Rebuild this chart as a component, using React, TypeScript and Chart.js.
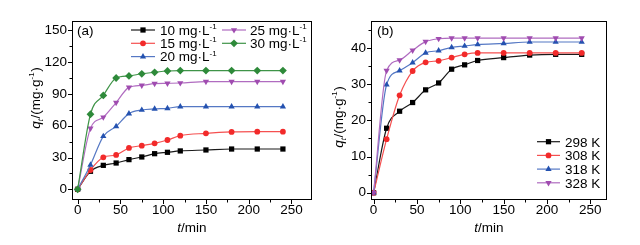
import React, { useEffect, useRef } from 'react';
import { Chart, registerables } from 'chart.js';

Chart.register(...registerables);

// ---------- data ----------
const times = [0, 15, 30, 45, 60, 75, 90, 105, 120, 150, 180, 210, 240];
const xTicks = [0, 50, 100, 150, 200, 250];
const aTicks = [0, 30, 60, 90, 120, 150];
const bTicks = [0, 10, 20, 30, 40];

const aNames = ['10', '15', '20', '25', '30']; // mg·L-1
const a10 = [0, 17, 22.6, 24.8, 28, 30.5, 33.6, 34.9, 36.2, 37.1, 38, 38, 38];
const a15 = [0, 18.2, 30.2, 32.4, 39, 41.2, 43.4, 46.5, 50.6, 52.8, 54.1, 54.4, 54.4];
const a20 = [0, 23, 50, 59.4, 71.4, 74.8, 75.8, 76.4, 78, 78, 78, 78, 78];
const a25 = [0, 57.5, 68, 81.8, 96.2, 98.1, 99.7, 100, 100.3, 101.6, 101.6, 101.6, 101.6];
const a30 = [0, 70.8, 88.6, 105, 107, 109, 110.4, 111.6, 112, 112, 112, 112, 112];

const bNames = ['298 K', '308 K', '318 K', '328 K'];
const b298 = [0, 17.8, 22.5, 24.9, 28.4, 30.3, 34.1, 35.3, 36.5, 37.3, 38, 38.2, 38.2];
const b308 = [0, 14.8, 26.9, 33.6, 36, 36.4, 37.3, 38.2, 38.6, 38.6, 38.6, 38.6, 38.6];
const b318 = [0, 29.8, 33.7, 35.9, 38.6, 39.2, 40.1, 40.5, 40.9, 41.2, 41.6, 41.6, 41.6];
const b328 = [0, 33.7, 36.6, 39.3, 41.7, 42.5, 42.7, 42.7, 42.7, 42.7, 42.7, 42.7, 42.7];

// ---------- styles ----------
const FONT = "Arial, 'Liberation Sans', sans-serif";
const FS = 13.5;
const W = 320;
const H = 245;

type Sty = { color: string; line: string; shape: string };
const STY: Sty[] = [
  { color: '#000000', line: '#1a1a1a', shape: 'rect' },
  { color: '#f22a2a', line: '#f55050', shape: 'circle' },
  { color: '#2452b0', line: '#5578c4', shape: 'triangle' },
  { color: '#a04cb0', line: '#b06cc0', shape: 'triangleDown' },
  { color: '#2e8a3a', line: '#3f9448', shape: 'rectRot' },
];

type Seg = { t: string; it?: boolean; sub?: boolean; sup?: boolean };

function segFont(s: Seg, size: number) {
  const sz = s.sub || s.sup ? Math.round(size * 0.62) : size;
  return `${s.it ? 'italic ' : ''}${sz}px ${FONT}`;
}

function drawRich(ctx: CanvasRenderingContext2D, segs: Seg[], x: number, y: number, size: number, align: 'left' | 'center') {
  let total = 0;
  const ws = segs.map((s) => {
    ctx.font = segFont(s, size);
    const w = ctx.measureText(s.t).width + (s.sup || s.sub ? 0.5 : 0);
    total += w;
    return w;
  });
  let cx = align === 'center' ? x - total / 2 : x;
  const base = y + size * 0.36;
  ctx.textBaseline = 'alphabetic';
  ctx.textAlign = 'left';
  ctx.fillStyle = '#000';
  segs.forEach((s, i) => {
    ctx.font = segFont(s, size);
    let yy = base;
    if (s.sub) yy = base + size * 0.22;
    if (s.sup) yy = base - size * 0.42;
    ctx.fillText(s.t, cx, yy);
    cx += ws[i];
  });
}

function drawMarker(ctx: CanvasRenderingContext2D, shape: string, x: number, y: number, r: number, color: string) {
  ctx.fillStyle = color;
  ctx.beginPath();
  if (shape === 'rect') {
    const s = r * Math.SQRT1_2;
    ctx.rect(x - s, y - s, 2 * s, 2 * s);
  } else if (shape === 'circle') {
    ctx.arc(x, y, r, 0, Math.PI * 2);
  } else if (shape === 'triangle') {
    ctx.moveTo(x, y - r);
    ctx.lineTo(x + r * 0.866, y + r * 0.5);
    ctx.lineTo(x - r * 0.866, y + r * 0.5);
  } else if (shape === 'triangleDown') {
    ctx.moveTo(x, y + r);
    ctx.lineTo(x + r * 0.866, y - r * 0.5);
    ctx.lineTo(x - r * 0.866, y - r * 0.5);
  } else {
    ctx.moveTo(x, y - r);
    ctx.lineTo(x + r, y);
    ctx.lineTo(x, y + r);
    ctx.lineTo(x - r, y);
  }
  ctx.closePath();
  ctx.fill();
}

const unitSegs = (n: string): Seg[] => [{ t: `${n} mg·L` }, { t: '-1', sup: true }];

type LegendItem = { segs: Seg[]; sty: Sty; x0: number; x1: number; tx: number; y: number };

type Panel = {
  area: { left: number; top: number; right: number; bottom: number };
  xMin: number; xMax: number; yMin: number; yMax: number;
  yTicks: number[]; yMinor: number; xMinor: number;
  series: { name: string; data: number[]; sty: Sty; r: number }[];
  legend: LegendItem[];
  tag: string; tagX: number;
  yTitle: { x: number; y: number };
  xTitle: { x: number; y: number };
};

const R = [3.7, 2.9, 3.6, 3.6, 3.9];

const panelA: Panel = {
  area: { left: 72, top: 21, right: 312, bottom: 200 },
  xMin: -6.6, xMax: 274, yMin: -10.1, yMax: 158.8,
  yTicks: aTicks, yMinor: 15, xMinor: 25,
  series: [a10, a15, a20, a25, a30].map((d, i) => ({ name: aNames[i], data: d, sty: STY[i], r: R[i] })),
  legend: [
    { segs: unitSegs(aNames[0]), sty: STY[0], x0: 131, x1: 155, tx: 160, y: 30 },
    { segs: unitSegs(aNames[1]), sty: STY[1], x0: 131, x1: 155, tx: 160, y: 43.3 },
    { segs: unitSegs(aNames[2]), sty: STY[2], x0: 131, x1: 155, tx: 160, y: 56.6 },
    { segs: unitSegs(aNames[3]), sty: STY[3], x0: 222, x1: 246, tx: 250, y: 30 },
    { segs: unitSegs(aNames[4]), sty: STY[4], x0: 222, x1: 246, tx: 250, y: 43.3 },
  ],
  tag: '(a)', tagX: 77,
  yTitle: { x: 35, y: 98 },
  xTitle: { x: 192, y: 227 },
};

const panelB: Panel = {
  area: { left: 51, top: 21, right: 287, bottom: 200 },
  xMin: -3, xMax: 269.2, yMin: -2, yMax: 47.4,
  yTicks: bTicks, yMinor: 5, xMinor: 25,
  series: [b298, b308, b318, b328].map((d, i) => ({ name: bNames[i], data: d, sty: STY[i], r: R[i] })),
  legend: bNames.map((n, i) => ({ segs: [{ t: n }], sty: STY[i], x0: 217, x1: 240, tx: 245, y: 141.7 + i * 13.7 })),
  tag: '(b)', tagX: 57,
  yTitle: { x: 18, y: 117 },
  xTitle: { x: 169, y: 227 },
};

function makeChart(canvas: HTMLCanvasElement, p: Panel) {
  const n = p.series.length;
  const deco = {
    id: 'deco',
    afterDraw(chart: any) {
      const ctx: CanvasRenderingContext2D = chart.ctx;
      const { left, top, right, bottom } = chart.chartArea;
      const xs = chart.scales.x;
      const ys = chart.scales.y;
      ctx.save();
      ctx.strokeStyle = '#000';
      ctx.lineWidth = 1;
      ctx.strokeRect(Math.round(left) + 0.5, Math.round(top) + 0.5, Math.round(right - left) - 1, Math.round(bottom - top) - 1);
      // ticks
      ctx.beginPath();
      for (let v = Math.ceil(p.xMin / p.xMinor) * p.xMinor; v <= p.xMax; v += p.xMinor) {
        const px = Math.round(xs.getPixelForValue(v)) + 0.5;
        const major = xTicks.includes(v);
        ctx.moveTo(px, Math.round(bottom));
        ctx.lineTo(px, Math.round(bottom) + (major ? 4 : 2.5));
      }
      for (let v = Math.ceil(p.yMin / p.yMinor) * p.yMinor; v <= p.yMax; v += p.yMinor) {
        const py = Math.round(ys.getPixelForValue(v)) + 0.5;
        const major = p.yTicks.includes(v);
        ctx.moveTo(Math.round(left), py);
        ctx.lineTo(Math.round(left) - (major ? 4 : 2.5), py);
      }
      ctx.stroke();
      // legend
      p.legend.forEach((it) => {
        ctx.strokeStyle = it.sty.line;
        ctx.lineWidth = 1.2;
        ctx.beginPath();
        ctx.moveTo(it.x0, it.y);
        ctx.lineTo(it.x1, it.y);
        ctx.stroke();
        const si = STY.indexOf(it.sty);
        drawMarker(ctx, it.sty.shape, (it.x0 + it.x1) / 2, it.y, R[si], it.sty.color);
        drawRich(ctx, it.segs, it.tx, it.y, FS, 'left');
      });
      // tag
      drawRich(ctx, [{ t: p.tag }], p.tagX, 30, FS, 'left');
      // x title
      drawRich(ctx, [{ t: 't', it: true }, { t: '/min' }], p.xTitle.x, p.xTitle.y, FS, 'center');
      // y title
      ctx.save();
      ctx.translate(p.yTitle.x, p.yTitle.y);
      ctx.rotate(-Math.PI / 2);
      drawRich(ctx, [{ t: 'q', it: true }, { t: 't', it: true, sub: true }, { t: '/(mg·g' }, { t: '-1', sup: true }, { t: ')' }], 0, 0, FS, 'center');
      ctx.restore();
      ctx.restore();
    },
  };

  return new Chart(canvas, {
    type: 'line',
    data: {
      datasets: p.series.map((s, i) => ({
        label: s.name,
        data: times.map((t, k) => ({ x: t, y: s.data[k] })),
        borderColor: s.sty.line,
        backgroundColor: s.sty.color,
        pointBackgroundColor: s.sty.color,
        pointBorderColor: s.sty.color,
        pointBorderWidth: 0,
        pointRadius: s.r,
        pointStyle: s.sty.shape === 'triangleDown' ? 'triangle' : s.sty.shape,
        pointRotation: s.sty.shape === 'triangleDown' ? 180 : 0,
        borderWidth: 1.2,
        cubicInterpolationMode: 'monotone',
        fill: false,
        order: n - i,
      })),
    },
    options: {
      animation: false,
      responsive: false,
      maintainAspectRatio: false,
      events: [],
      layout: { padding: { left: 0, top: p.area.top, right: W - p.area.right, bottom: 0 } },
      plugins: { legend: { display: false }, tooltip: { enabled: false }, title: { display: false } },
      scales: {
        x: {
          type: 'linear',
          min: p.xMin,
          max: p.xMax,
          afterBuildTicks: (s: any) => { s.ticks = xTicks.map((v) => ({ value: v })); },
          afterFit: (s: any) => { s.height = H - p.area.bottom; },
          grid: { display: false, drawTicks: false },
          border: { display: false },
          ticks: { color: '#000', font: { family: FONT, size: FS }, padding: 2, maxRotation: 0, autoSkip: false },
        },
        y: {
          type: 'linear',
          min: p.yMin,
          max: p.yMax,
          afterBuildTicks: (s: any) => { s.ticks = p.yTicks.map((v) => ({ value: v })); },
          afterFit: (s: any) => { s.width = p.area.left; },
          grid: { display: false, drawTicks: false },
          border: { display: false },
          ticks: { color: '#000', font: { family: FONT, size: FS }, padding: 5, autoSkip: false },
        },
      },
    } as any,
    plugins: [deco],
  } as any);
}

export default function App() {
  const refA = useRef<HTMLCanvasElement>(null);
  const refB = useRef<HTMLCanvasElement>(null);
  useEffect(() => {
    const ca = makeChart(refA.current!, panelA);
    const cb = makeChart(refB.current!, panelB);
    return () => {
      ca.destroy();
      cb.destroy();
    };
  }, []);
  return (
    <div style={{ position: 'fixed', left: 0, top: 0, width: 640, height: 245, background: '#fff' }}>
      <canvas ref={refA} width={W} height={H} style={{ position: 'absolute', left: 0, top: 0, width: W, height: H }} />
      <canvas ref={refB} width={W} height={H} style={{ position: 'absolute', left: 320, top: 0, width: W, height: H }} />
    </div>
  );
}
